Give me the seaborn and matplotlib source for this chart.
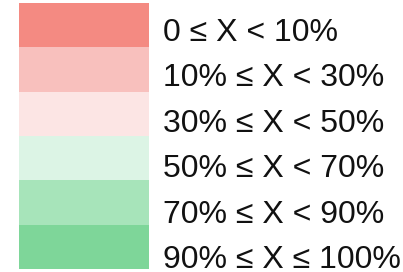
import numpy as np
import matplotlib
matplotlib.use("Agg")
import matplotlib.pyplot as plt
import seaborn as sns
from matplotlib.colors import ListedColormap

# legend bins, top to bottom
labels = ["0 ≤ X < 10%", "10% ≤ X < 30%", "30% ≤ X < 50%",
          "50% ≤ X < 70%", "70% ≤ X < 90%", "90% ≤ X ≤ 100%"]
colors = ["#f48a82", "#f8c0bd", "#fce5e4", "#dcf4e5", "#a7e4ba", "#7ed699"]
codes = [0, 1, 2, 3, 4, 5]

plt.rcParams['font.family'] = ['Liberation Sans', 'DejaVu Sans']

W, H = 403, 272
fig = plt.figure(figsize=(W / 100, H / 100), dpi=100)
ax = fig.add_axes([19 / W, 3 / H, 130 / W, 266 / H])

sns.heatmap(np.array(codes).reshape(-1, 1), ax=ax, cmap=ListedColormap(colors),
            vmin=-0.5, vmax=5.5, cbar=False, xticklabels=False,
            yticklabels=False)

# labels sit on a slightly wider pitch than the swatches
for i, lab in enumerate(labels):
    base = 41 + 45.4 * i
    fig.text(163 / W, 1 - base / H, lab, ha="left", va="baseline",
             fontsize=23, color="#111111")

fig.savefig("out.png", dpi=100)
